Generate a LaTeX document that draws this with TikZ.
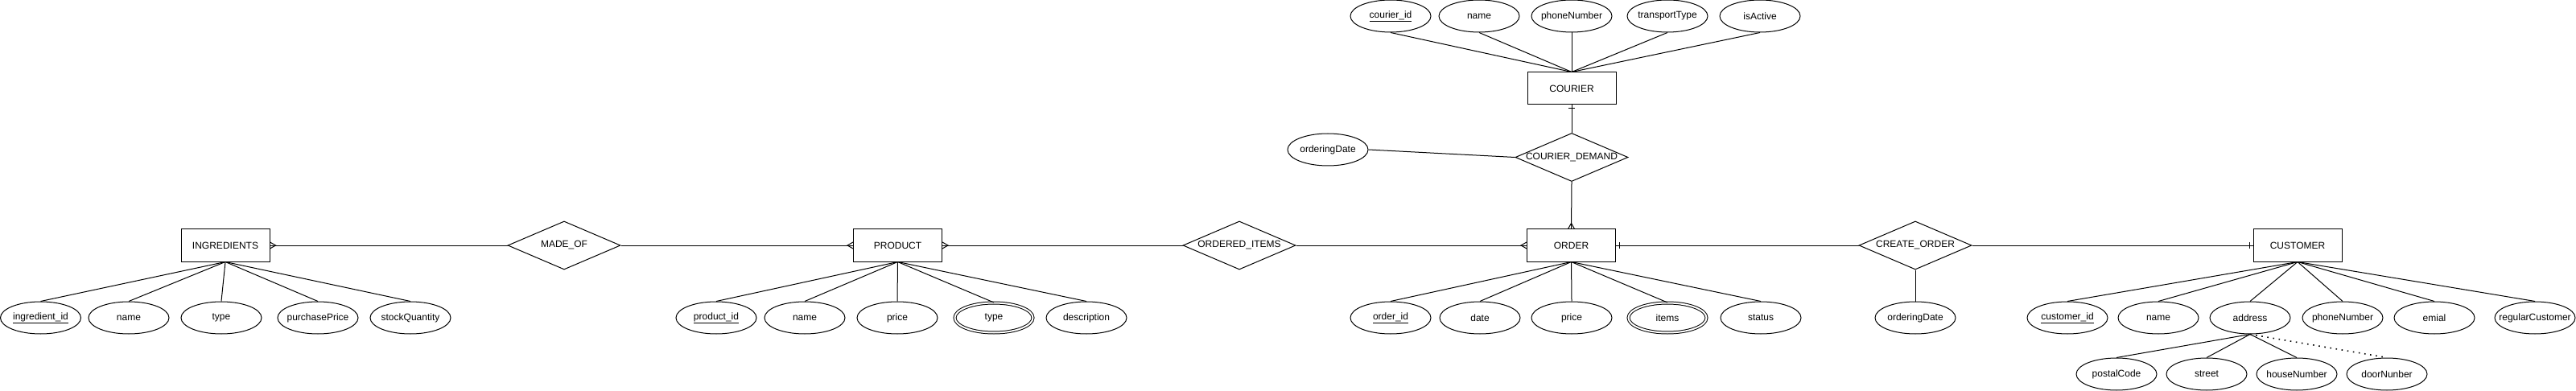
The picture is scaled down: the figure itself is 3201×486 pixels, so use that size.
\documentclass[tikz,border=0pt]{standalone}
\usepackage{fontspec}
\setmainfont{Liberation Sans}
\usetikzlibrary{shapes.geometric}
\newcommand{\zw}[1]{\makebox[0pt]{#1}}
\begin{document}
\begin{tikzpicture}[x=1pt,y=-1pt, line width=1pt,
  txt/.style={font=\fontsize{12}{14}\selectfont},
  ent/.style={draw, rectangle, minimum width=110pt, minimum height=40pt, inner sep=0pt, txt},
  attr/.style={draw, ellipse, minimum width=100pt, minimum height=40pt, inner sep=0pt, txt},
  mattr/.style={attr, double, double distance=2pt, minimum width=97pt, minimum height=37pt},
  rel/.style={draw, diamond, minimum width=140pt, minimum height=60pt, inner sep=0pt, txt},
  conn/.style={draw},
  part/.style={draw, line width=1.6pt, dash pattern=on 1.6pt off 5.6pt},
]
\useasboundingbox (0,0) rectangle (3201,486);

% entities
\node[ent] (ing) at (280,305) {INGREDIENTS};
\node[ent] (prod) at (1115.5,305) {PRODUCT};
\node[ent] (ord) at (1952.5,305) {ORDER};
\node[ent] (cou) at (1953,110) {COURIER};
\node[ent] (cus) at (2855,305) {CUSTOMER};

% relationships
\node[rel] (made) at (701,305) {\zw{MADE\_OF}};
\node[rel] (oi) at (1540,305) {\zw{ORDERED\_ITEMS}};
\node[rel] (co) at (2380,305) {\zw{CREATE\_ORDER}};
\node[rel] (cd) at (1953,195.5) {\zw{COURIER\_DEMAND}};

% ingredients attributes
\node[attr] (i1) at (50.5,395) {\zw{\underline{ingredient\_id}}};
\node[attr] (i2) at (160,395) {\zw{name}};
\node[attr] (i3) at (275,395) {\zw{type}};
\node[attr] (i4) at (395,395) {\zw{purchasePrice}};
\node[attr] (i5) at (510,395) {\zw{stockQuantity}};

% product attributes
\node[attr] (p1) at (890,395) {\zw{\underline{product\_id}}};
\node[attr] (p2) at (1000,395) {\zw{name}};
\node[attr] (p3) at (1115,395) {\zw{price}};
\node[mattr] (p4) at (1235,395) {\zw{type}};
\node[attr] (p5) at (1350,395) {\zw{description}};

% order attributes
\node[attr] (o1) at (1728,395) {\zw{\underline{order\_id}}};
\node[attr] (o2) at (1839,395) {\zw{date}};
\node[attr] (o3) at (1953,395) {\zw{price}};
\node[mattr] (o4) at (2072,395) {\zw{items}};
\node[attr] (o5) at (2188,395) {\zw{status}};

% create order attribute
\node[attr] (cod) at (2380,395) {\zw{orderingDate}};

% customer attributes
\node[attr] (c1) at (2569,395) {\zw{\underline{customer\_id}}};
\node[attr] (c2) at (2682,395) {\zw{name}};
\node[attr] (c3) at (2796,395) {\zw{address}};
\node[attr] (c4) at (2911,395) {\zw{phoneNumber}};
\node[attr] (c5) at (3025,395) {\zw{emial}};
\node[attr] (c6) at (3150,395) {\zw{regularCustomer}};

% address parts
\node[attr] (a1) at (2630,465) {\zw{postalCode}};
\node[attr] (a2) at (2742,465) {\zw{street}};
\node[attr] (a3) at (2854,465) {\zw{houseNumber}};
\node[attr] (a4) at (2966,465) {\zw{doorNunber}};

% courier attributes
\node[attr] (k1) at (1728,20) {\zw{\underline{courier\_id}}};
\node[attr] (k2) at (1838,20) {\zw{name}};
\node[attr] (k3) at (1953,20) {\zw{phoneNumber}};
\node[attr] (k4) at (2072,20) {\zw{transportType}};
\node[attr] (k5) at (2187,20) {\zw{isActive}};

% courier demand attribute
\node[attr] (cdd) at (1650,186) {\zw{orderingDate}};

% attribute connectors
\foreach \a in {i1,i2,i3,i4,i5} \draw[conn] (ing.south) -- (\a.north);
\foreach \a in {p1,p2,p3,p4,p5} \draw[conn] (prod.south) -- (\a.north);
\foreach \a in {o1,o2,o3,o4,o5} \draw[conn] (ord.south) -- (\a.north);
\foreach \a in {c1,c2,c3,c4,c5,c6} \draw[conn] (cus.south) -- (\a.north);
\foreach \a in {k1,k2,k3,k4,k5} \draw[conn] (cou.north) -- (\a.south);
\foreach \a in {a1,a2,a3} \draw[conn] (c3.south) -- (\a.north);
\draw[part] (c3.south) -- (a4.north);
\draw[conn] (co.south) -- (cod.north);
\draw[conn] (cdd.east) -- (cd.west);

% relationship connectors
\draw[conn] (made.west) -- (ing.east);
\draw[conn] (made.east) -- (prod.west);
\draw[conn] (oi.west) -- (prod.east);
\draw[conn] (oi.east) -- (ord.west);
\draw[conn] (co.west) -- (ord.east);
\draw[conn] (co.east) -- (cus.west);
\draw[conn] (cd.north) -- (cou.south);
\draw[conn] (cd.south) -- (ord.north);

% crow's feet (many)
\draw[conn] ([yshift=-4pt]ing.east) -- ([xshift=7pt]ing.east) -- ([yshift=4pt]ing.east);
\draw[conn] ([yshift=-4pt]prod.west) -- ([xshift=-7pt]prod.west) -- ([yshift=4pt]prod.west);
\draw[conn] ([yshift=-4pt]prod.east) -- ([xshift=7pt]prod.east) -- ([yshift=4pt]prod.east);
\draw[conn] ([yshift=-4pt]ord.west) -- ([xshift=-7pt]ord.west) -- ([yshift=4pt]ord.west);
\draw[conn] ([xshift=-4pt]ord.north) -- ([yshift=7pt]ord.north) -- ([xshift=4pt]ord.north);

% bars (one)
\draw[conn] ([xshift=4pt,yshift=-4pt]ord.east) -- ([xshift=4pt,yshift=4pt]ord.east);
\draw[conn] ([xshift=-4pt,yshift=-4pt]cus.west) -- ([xshift=-4pt,yshift=4pt]cus.west);
\draw[conn] ([xshift=-4pt,yshift=-4pt]cou.south) -- ([xshift=4pt,yshift=-4pt]cou.south);
\end{tikzpicture}
\end{document}
